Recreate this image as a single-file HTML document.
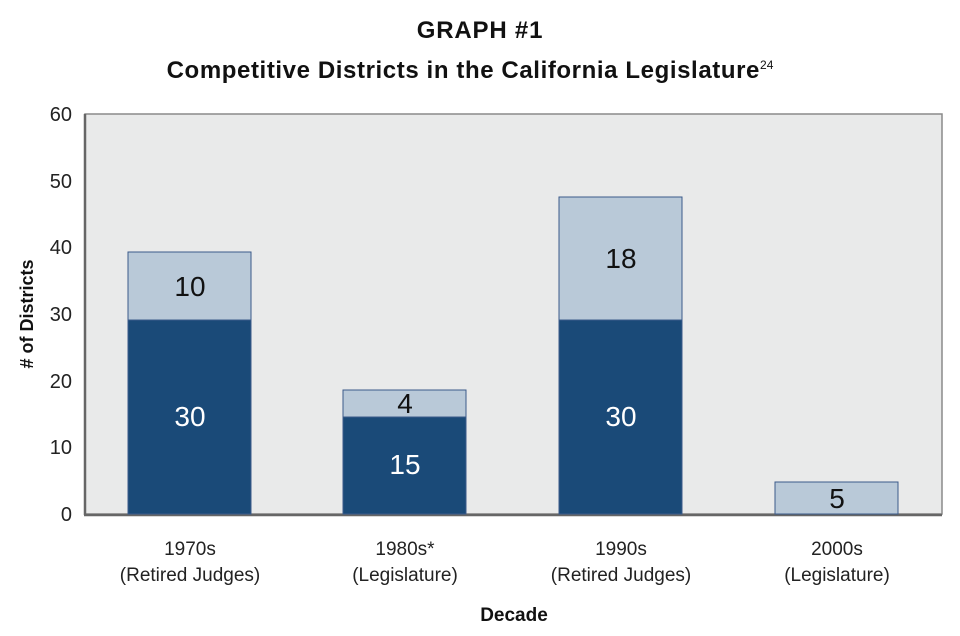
<!DOCTYPE html>
<html><head><style>body{margin:0;background:#fff}svg{display:block}</style></head><body>
<svg width="960" height="636" xmlns="http://www.w3.org/2000/svg" font-family="Liberation Sans, sans-serif">
<text x="480" y="38" text-anchor="middle" font-size="24" font-weight="bold" letter-spacing="0.8" fill="#111">GRAPH #1</text>
<text x="470" y="78" text-anchor="middle" font-size="24" font-weight="bold" letter-spacing="0.6" fill="#111">Competitive Districts in the California Legislature<tspan font-size="12" font-weight="normal" letter-spacing="0" dy="-9">24</tspan></text>
<rect x="85" y="114" width="857" height="400" fill="#e9eaea" stroke="#8a8a8a" stroke-width="1.5"/>
<line x1="85" y1="114" x2="85" y2="515" stroke="#666" stroke-width="2.5"/>
<line x1="84" y1="515" x2="942" y2="515" stroke="#666" stroke-width="2.5"/>
<g font-size="20" fill="#222" text-anchor="end">
<text x="72" y="121">60</text><text x="72" y="188">50</text><text x="72" y="254">40</text>
<text x="72" y="321">30</text><text x="72" y="388">20</text><text x="72" y="454">10</text><text x="72" y="521">0</text>
</g>
<text transform="translate(33,314) rotate(-90)" text-anchor="middle" font-size="18" font-weight="bold" fill="#111"># of Districts</text>
<g stroke="#3a5a8a" stroke-width="1">
<rect x="128" y="252" width="123" height="68" fill="#b9c9d8"/>
<rect x="128" y="320" width="123" height="194" fill="#1a4a78"/>
<rect x="343" y="390" width="123" height="27" fill="#b9c9d8"/>
<rect x="343" y="417" width="123" height="97" fill="#1a4a78"/>
<rect x="559" y="197" width="123" height="123" fill="#b9c9d8"/>
<rect x="559" y="320" width="123" height="194" fill="#1a4a78"/>
<rect x="775" y="482" width="123" height="32" fill="#b9c9d8"/>
</g>
<g font-size="28" text-anchor="middle">
<text x="190" y="296" fill="#111">10</text>
<text x="190" y="426" fill="#fff">30</text>
<text x="405" y="413" fill="#111">4</text>
<text x="405" y="474" fill="#fff">15</text>
<text x="621" y="268" fill="#111">18</text>
<text x="621" y="426" fill="#fff">30</text>
<text x="837" y="508" fill="#111">5</text>
</g>
<g font-size="19" fill="#222" text-anchor="middle">
<text x="190" y="555">1970s</text><text x="190" y="581">(Retired Judges)</text>
<text x="405" y="555">1980s*</text><text x="405" y="581">(Legislature)</text>
<text x="621" y="555">1990s</text><text x="621" y="581">(Retired Judges)</text>
<text x="837" y="555">2000s</text><text x="837" y="581">(Legislature)</text>
</g>
<text x="514" y="621" text-anchor="middle" font-size="19" font-weight="bold" fill="#111">Decade</text>
</svg>
</body></html>
